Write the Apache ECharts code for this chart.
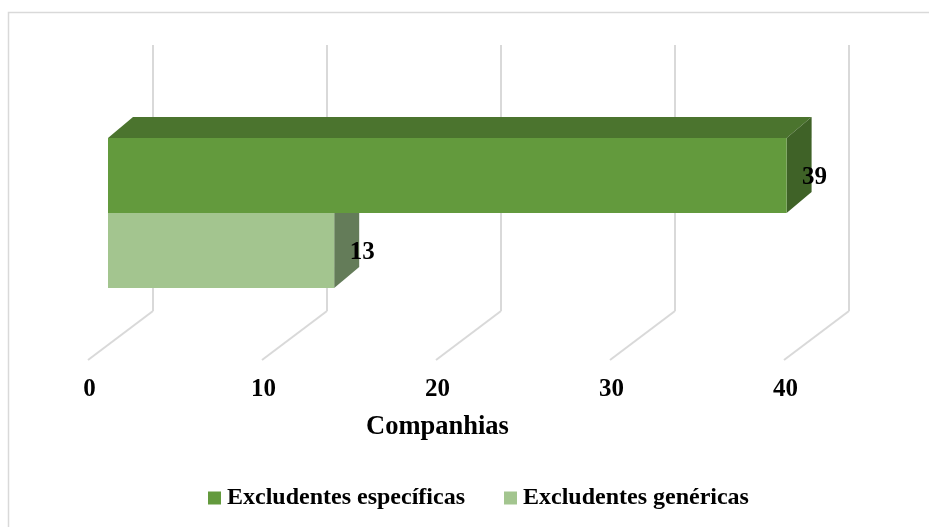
<!DOCTYPE html>
<html><head><meta charset="utf-8">
<style>html,body{margin:0;padding:0;background:#fff}#c{width:929px;height:527px}</style>
<script src="https://cdn.jsdelivr.net/npm/echarts@6/dist/echarts.min.js"></script>
</head><body><div id="c"></div>
<script>
const categories = ['Excludentes específicas', 'Excludentes genéricas'];
const seriesValues = [39, 13];
const tickValues = [0, 10, 20, 30, 40];
const axisTitle = 'Companhias';

const FONT = '"Liberation Serif","Times New Roman",serif';
const GRID_COLOR = '#d9d9d9';
const FLOOR_DX = 65, FLOOR_DY = -49;
const DEPTH_DX = 25, DEPTH_DY = -21;
const palette = [
  {front:'#639a3d', top:'#4b742e', side:'#3f6227'},
  {front:'#a3c58f', top:'#7b956c', side:'#647c59'}
];

const chart = echarts.init(document.getElementById('c'), null, {renderer:'canvas'});

function barItem(idx){
  return function(params, api){
    const val = api.value(0), cat = api.value(1);
    const end = api.coord([val, cat]);
    const start = api.coord([0, cat]);
    const h = api.size([0, 1])[1];
    const c = palette[idx];
    const x0 = start[0], x1 = end[0], y0 = end[1] - h/2, y1 = end[1] + h/2;
    const dx = DEPTH_DX, dy = DEPTH_DY;
    const poly = (pts, fill) => ({type:'polygon', shape:{points:pts}, style:{fill}});
    const kids = [];
    kids.push(poly([[x0,y0],[x1,y0],[x1+dx,y0+dy],[x0+dx,y0+dy]], c.top));
    kids.push(poly([[x1,y0],[x1+dx,y0+dy],[x1+dx,y1+dy],[x1,y1]], c.side));
    kids.push({type:'rect', shape:{x:x0,y:y0,width:x1-x0,height:y1-y0}, style:{fill:c.front}});
    kids.push({type:'text', style:{x:x1+28, y:(y0+y1)/2+2, text:String(val), fill:'#000',
      font:'bold 25px '+FONT, textAlign:'center', textVerticalAlign:'middle'}, z2:100});
    return {type:'group', children:kids};
  };
}

const hiddenAxis = {show:false};
chart.setOption({
  animation:false,
  backgroundColor:'#fff',
  graphic:[
    {type:'polyline', silent:true, shape:{points:[[8.5,527],[8.5,12.5],[929,12.5]]},
     style:{stroke:GRID_COLOR, lineWidth:1.5, fill:null}}
  ],
  legend:{
    left:203, top:481, itemWidth:13, itemHeight:13, itemGap:39, icon:'rect',
    data:categories,
    textStyle:{fontFamily:FONT, fontWeight:'bold', fontSize:24, color:'#000', padding:[7,0,0,1]}
  },
  grid:[
    {left:88, width:696, top:311, height:49},   // front edge of the floor
    {left:153, width:696, top:45, height:266},  // back wall
    {left:108, width:696, top:138, height:150}  // plane of the bars
  ],
  xAxis:[
    {gridIndex:0, type:'value', min:0, max:40, interval:10,
     axisLine:{show:false}, axisTick:{show:false}, splitLine:{show:false},
     axisLabel:{margin:17, fontFamily:FONT, fontWeight:'bold', fontSize:25, color:'#000', padding:[0,0,0,3]},
     name:axisTitle, nameLocation:'middle', nameGap:54,
     nameTextStyle:{fontFamily:FONT, fontWeight:'bold', fontSize:26.5, color:'#000', padding:[0,0,0,3]}},
    {gridIndex:1, type:'value', min:0, max:40, interval:10,
     axisLine:{show:false}, axisTick:{show:false}, axisLabel:{show:false},
     splitLine:{show:true, lineStyle:{color:GRID_COLOR, width:2}}},
    {gridIndex:2, type:'value', min:0, max:40, interval:10, ...hiddenAxis}
  ],
  yAxis:[
    {gridIndex:0, type:'value', min:0, max:1, ...hiddenAxis},
    {gridIndex:1, type:'value', min:0, max:1, ...hiddenAxis},
    {gridIndex:2, type:'category', inverse:true, data:categories, ...hiddenAxis}
  ],
  series:[
    {type:'custom', name:'floor', xAxisIndex:0, yAxisIndex:0, silent:true, z:1,
     data:tickValues.map(t=>[t,0]),
     renderItem:(p,api)=>{
       const a = api.coord([api.value(0),0]);
       return {type:'line', shape:{x1:a[0],y1:a[1],x2:a[0]+FLOOR_DX,y2:a[1]+FLOOR_DY},
               style:{stroke:GRID_COLOR, lineWidth:2}};
     }},
    ...categories.map((name,i)=>({
      type:'custom', name, xAxisIndex:2, yAxisIndex:2, z:6-i,
      itemStyle:{color:palette[i].front},
      encode:{x:0,y:1},
      data:[[seriesValues[i], i]],
      renderItem:barItem(i)
    }))
  ]
});
</script></body></html>
